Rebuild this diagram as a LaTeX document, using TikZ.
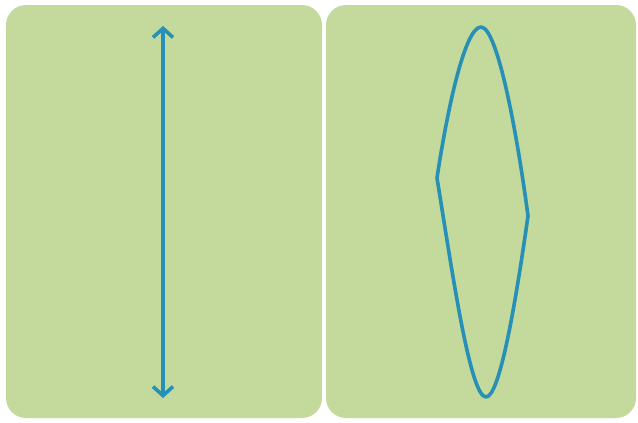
\documentclass[tikz,border=0pt]{standalone}
\usepackage{tikz,xcolor}
\usetikzlibrary{positioning,calc,arrows.meta}
\definecolor{leaf}{HTML}{C3DA9C}
\definecolor{teal}{HTML}{2690B6}

\begin{document}
\begin{tikzpicture}[x=1pt,y=-1pt,panel/.style={fill=leaf,rounded corners=20pt},stroke/.style={teal,line width=3.6pt,line cap=round,line join=round}]
    \useasboundingbox (0,0) rectangle (638,423);
    \fill[panel] (6,5) rectangle (322,418);
    \fill[panel] (326,5) rectangle (636,418);
    \coordinate (arrtop) at (163,26); \coordinate (arrbot) at (163,398);
    \draw[stroke,{Straight Barb[length=9pt,width=20pt]}-{Straight Barb[length=9pt,width=20pt]}] (arrtop)--(arrbot);
    \coordinate (ctop) at (481,27); \coordinate (cleft) at (437,178); \coordinate (cright) at (528,216); \coordinate (cbot) at (486,397);
    \draw[stroke] (ctop) .. controls (464,27) and (446,118) .. (cleft) .. controls (452,270) and (470,397) .. (cbot) .. controls (500,397) and (516,300) .. (cright) .. controls (518,140) and (498,27) .. (ctop) -- cycle;
  \end{tikzpicture}
\end{document}
